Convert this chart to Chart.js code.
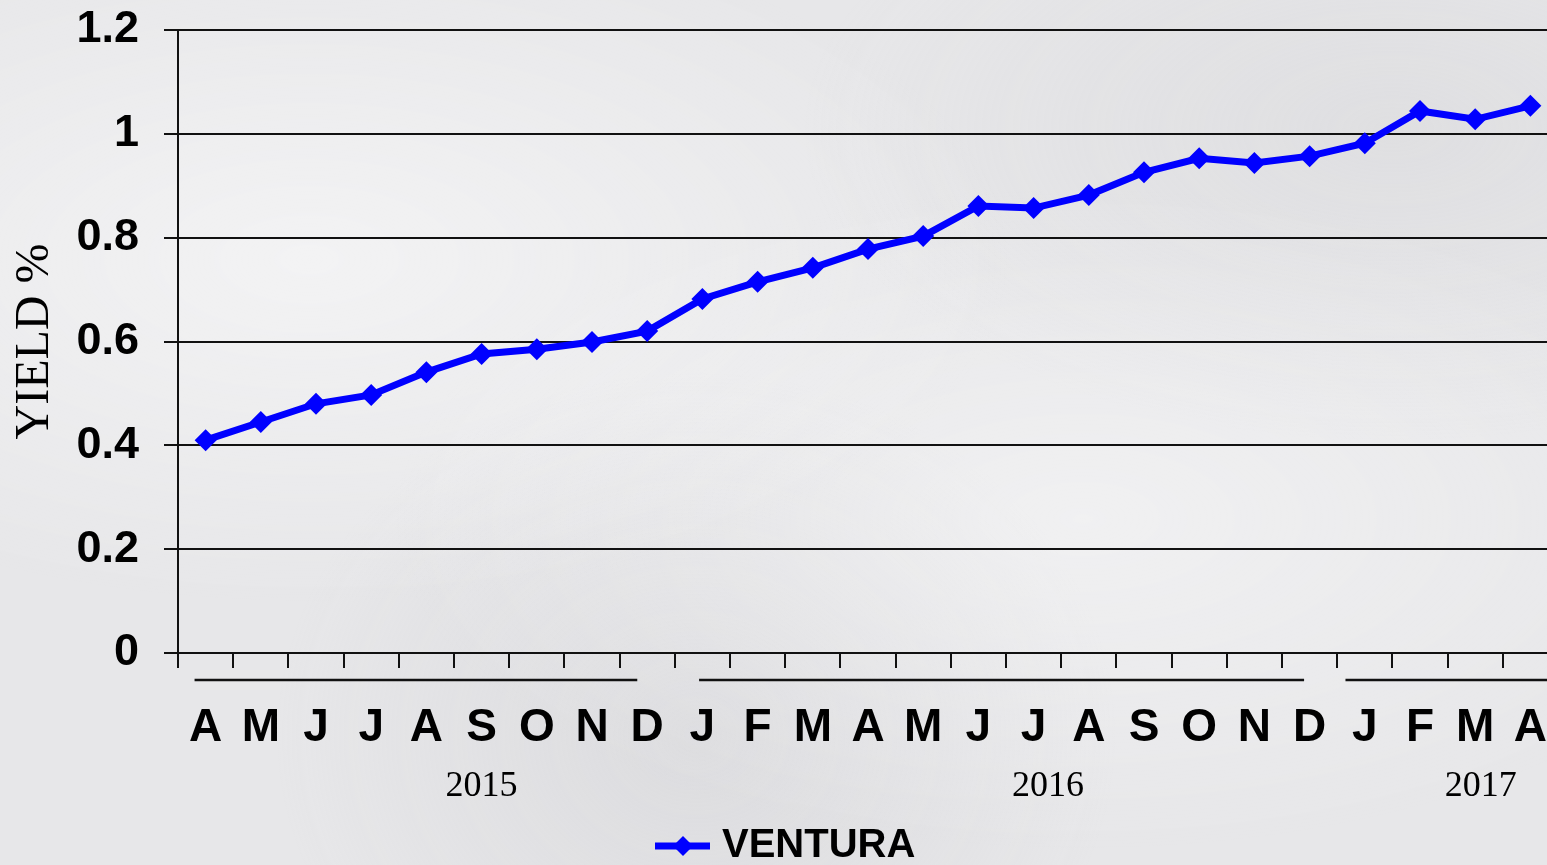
<!DOCTYPE html>
<html>
<head>
<meta charset="utf-8">
<script src="https://cdn.jsdelivr.net/npm/chart.js@4/dist/chart.umd.min.js"></script>
<style>
  html, body { margin: 0; padding: 0; overflow: hidden; }
  body {
    width: 1547px; height: 865px;
    background-color: #e7e7e9;
    background-image:
      radial-gradient(ellipse at 20% 30%, rgba(255,255,255,0.5), rgba(255,255,255,0) 40%),
      radial-gradient(ellipse at 70% 60%, rgba(255,255,255,0.4), rgba(255,255,255,0) 45%),
      radial-gradient(ellipse at 45% 85%, rgba(200,200,204,0.35), rgba(200,200,204,0) 35%),
      radial-gradient(ellipse at 90% 15%, rgba(205,205,208,0.3), rgba(205,205,208,0) 30%);
  }
  #wrap { position: absolute; left: 0; top: 0; width: 1569px; height: 865px; }
</style>
</head>
<body>
<div id="wrap"><canvas id="chart" width="1569" height="865"></canvas></div>
<script>
const months = ['A', 'M', 'J', 'J', 'A', 'S', 'O', 'N', 'D',
  'J', 'F', 'M', 'A', 'M', 'J', 'J', 'A', 'S', 'O', 'N', 'D',
  'J', 'F', 'M', 'A'];

const ventura = [0.410, 0.445, 0.480, 0.497, 0.541, 0.576, 0.585, 0.599, 0.620,
  0.682, 0.715, 0.742, 0.778, 0.803, 0.861, 0.857, 0.882, 0.926, 0.953, 0.944, 0.957,
  0.982, 1.044, 1.028, 1.054];

// year label, where its underline starts/ends and where the label sits (category index)
const years = ['2015', '2016', '2017'];
const yearStart = [-0.2, 8.94, 20.65];
const yearEnd = [7.82, 19.9, 25];
const yearAt = [5, 15.26, 23.1];

const yearPlugin = {
  id: 'years',
  afterDraw(chart) {
    const ctx = chart.ctx;
    const x = chart.scales.x;
    ctx.save();
    ctx.strokeStyle = '#111';
    ctx.lineWidth = 2.5;
    ctx.fillStyle = '#000';
    ctx.font = '36px "Liberation Serif", "Times New Roman", serif';
    ctx.textAlign = 'center';
    ctx.textBaseline = 'alphabetic';
    years.forEach((y, i) => {
      ctx.beginPath();
      ctx.moveTo(x.getPixelForValue(yearStart[i]), x.top + 27);
      ctx.lineTo(x.getPixelForValue(yearEnd[i]), x.top + 27);
      ctx.stroke();
      ctx.fillText(y, x.getPixelForValue(yearAt[i]), x.top + 143);
    });
    ctx.restore();
  }
};

const legendPlugin = {
  id: 'ventLegend',
  afterDraw(chart) {
    const ctx = chart.ctx;
    const ds = chart.data.datasets[0];
    const y = 846;
    const x0 = 655;
    ctx.save();
    ctx.strokeStyle = ds.borderColor;
    ctx.lineWidth = ds.borderWidth;
    ctx.beginPath();
    ctx.moveTo(x0, y);
    ctx.lineTo(x0 + 55, y);
    ctx.stroke();
    ctx.fillStyle = ds.pointBackgroundColor;
    ctx.beginPath();
    ctx.moveTo(x0 + 28 - 10, y);
    ctx.lineTo(x0 + 28, y - 10);
    ctx.lineTo(x0 + 28 + 10, y);
    ctx.lineTo(x0 + 28, y + 10);
    ctx.closePath();
    ctx.fill();
    ctx.fillStyle = '#000';
    ctx.font = 'bold 40px "Liberation Sans", Arial, sans-serif';
    ctx.textAlign = 'left';
    ctx.textBaseline = 'alphabetic';
    ctx.fillText(ds.label, x0 + 67, 857);
    ctx.restore();
  }
};

new Chart(document.getElementById('chart'), {
  type: 'line',
  data: {
    labels: months,
    datasets: [{
      label: 'VENTURA',
      data: ventura,
      borderColor: '#0000ff',
      backgroundColor: '#0000ff',
      pointBackgroundColor: '#0000ff',
      pointBorderWidth: 0,
      borderWidth: 7,
      pointStyle: 'rectRot',
      pointRadius: 11,
      tension: 0
    }]
  },
  options: {
    responsive: false,
    animation: false,
    layout: { padding: { top: 30, right: 2, bottom: 0, left: 1 } },
    plugins: {
      legend: { display: false },
      tooltip: { enabled: false }
    },
    scales: {
      x: {
        offset: true,
        afterFit(s) {
          s.height = 212;
          s.paddingLeft = 0;
          s.paddingRight = 0;
        },
        grid: {
          offset: true,
          drawOnChartArea: false,
          drawTicks: true,
          tickLength: 15,
          color: '#111',
          lineWidth: 2
        },
        border: { color: '#111', width: 2 },
        ticks: {
          color: '#000',
          padding: 33,
          maxRotation: 0,
          autoSkip: false,
          font: { family: '"Liberation Sans", Arial, sans-serif', size: 46, weight: 'bold' }
        }
      },
      y: {
        min: 0,
        max: 1.2,
        afterFit(s) {
          s.width = 177;
          s.paddingTop = 0;
          s.paddingBottom = 0;
        },
        grid: {
          color: '#111',
          lineWidth: 2,
          tickLength: 14
        },
        border: { color: '#111', width: 2 },
        ticks: {
          stepSize: 0.2,
          color: '#000',
          padding: 25,
          font: { family: '"Liberation Sans", Arial, sans-serif', size: 45, weight: 'bold' },
          callback: v => String(Math.round(v * 10) / 10)
        },
        title: {
          display: true,
          text: 'YIELD %',
          color: '#000',
          padding: { top: 6, bottom: 0 },
          font: { family: '"Liberation Serif", "Times New Roman", serif', size: 48, weight: 'normal' }
        }
      }
    }
  },
  plugins: [yearPlugin, legendPlugin]
});
</script>
</body>
</html>
